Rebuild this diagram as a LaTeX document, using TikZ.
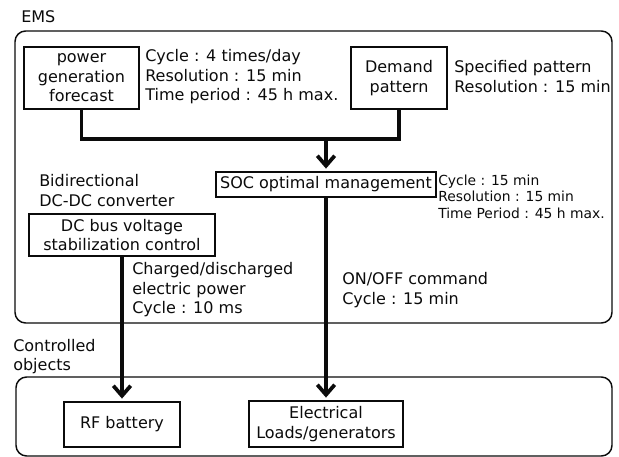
\documentclass[tikz,border=0pt]{standalone}
\usepackage{fontspec}
\setmainfont{DejaVu Sans}
\usepackage{tikz}
\usetikzlibrary{arrows.meta,positioning,calc}
\definecolor{ink}{HTML}{0B0B0B}
\tikzset{
  >={Straight Barb[length=7.5pt,width=13pt]},
  every picture/.style={line join=miter},
  box/.style={draw=ink, fill=white, align=center, inner sep=2pt, line width=1.1pt,
    text=ink, font=\fontsize{12}{14.6}\selectfont},
  arr/.style={->, draw=ink, line width=2.8pt, shorten >=2pt},
  lbl/.style={font=\fontsize{12}{14.6}\selectfont, text=ink, align=left, anchor=west, inner sep=0pt},
  slbl/.style={lbl, font=\fontsize{10.4}{12.4}\selectfont},
  group/.style={draw=ink, rounded corners=8pt, line width=1.1pt},
}
\begin{document}
\begin{tikzpicture}[x=0.75pt, y=-0.75pt]
  \useasboundingbox (0,0) rectangle (619,457);
  % =================== EMS ===================
  \node[lbl] (emslbl) at (21,17) {EMS};
  \draw[group] (15,31) rectangle (612,323);
  \node[box, minimum width=115*0.75pt, minimum height=62*0.75pt] (pgf) at (81.5,78)
    {power\\ generation\\ forecast};
  \node[box, minimum width=96*0.75pt, minimum height=62*0.75pt] (dem) at (399,78)
    {Demand\\ pattern};
  \node[lbl] (pgfnote) at (145,77) {Cycle : 4 times/day\\ Resolution : 15 min\\ Time period : 45 h max.};
  \node[lbl] (demnote) at (454,76.5) {Specified pattern\\ Resolution : 15 min};
  \node[box, minimum width=220*0.75pt, minimum height=25*0.75pt] (soc) at (326,184.5)
    {SOC optimal management};
  \node[slbl] (socnote) at (438,196.5) {Cycle : 15 min\\ Resolution : 15 min\\ Time Period : 45 h max.};
  \coordinate (jn) at (326,139);
  \draw[draw=ink, line width=2.8pt] (pgf.south) |- (jn) -| (dem.south);
  \draw[arr] (jn) -- (soc.north);
  \node[lbl] (bidir) at (39,190.5) {Bidirectional\\ DC-DC converter};
  \node[box, minimum width=186*0.75pt, minimum height=42*0.75pt] (dcbus) at (122,235)
    {DC bus voltage\\ stabilization control};
  \node[lbl] (chgnote) at (132,290) {Charged/discharged\\ electric power\\ Cycle : 10 ms};
  \node[lbl] (onoff) at (342,290) {ON/OFF command\\ Cycle : 15 min};

  % =================== controlled objects ===================
  \node[lbl] (ctrllbl) at (13,356.5) {Controlled\\ objects};
  \draw[group] (16,377) rectangle (612,456);
  \node[box, minimum width=116*0.75pt, minimum height=45*0.75pt] (rf) at (122,424.5) {RF battery};
  \node[box, minimum width=154*0.75pt, minimum height=46*0.75pt] (load) at (326,424)
    {Electrical\\ Loads/generators};
  \draw[arr] (dcbus.south) -- (rf.north);
  \draw[arr] (soc.south) -- (load.north);
\end{tikzpicture}
\end{document}
